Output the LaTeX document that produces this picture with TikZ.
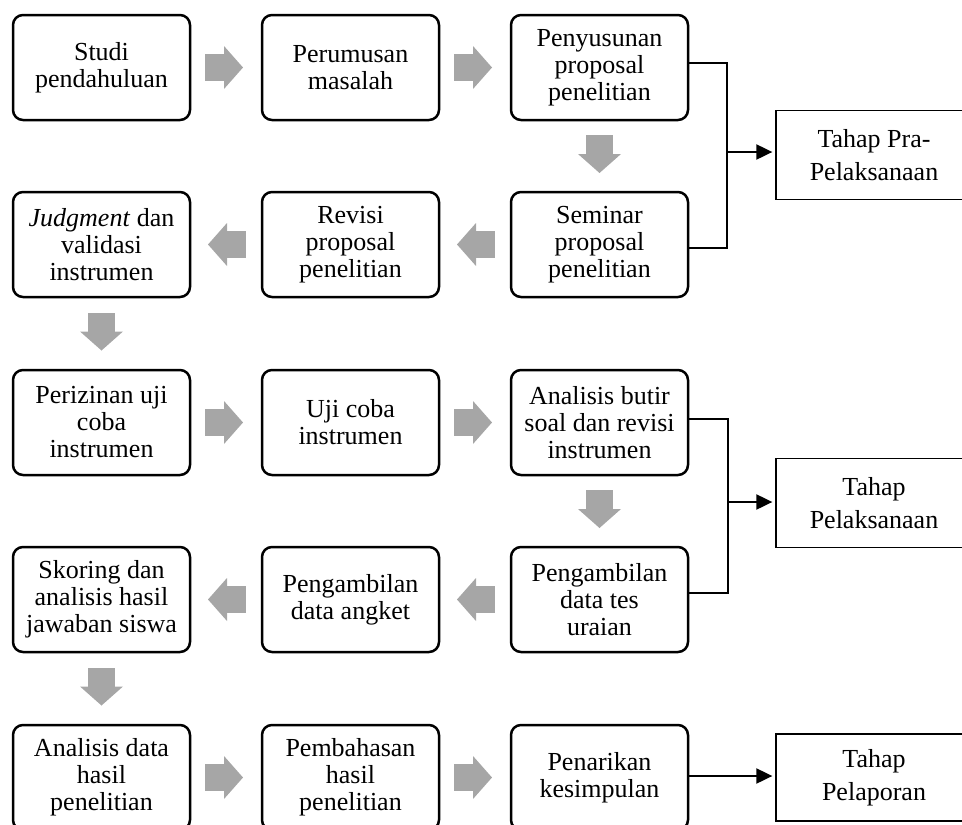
\documentclass[tikz,border=0pt]{standalone}
\usepackage{fontspec}
\setmainfont{Liberation Serif}
\usetikzlibrary{arrows.meta,calc}
\definecolor{garr}{RGB}{166,166,166}
\tikzset{
 stepbox/.style={draw, line width=2.5pt, rounded corners=10pt, minimum width=177pt, minimum height=105pt, align=center, inner sep=0pt, font=\fontsize{26}{27}\selectfont},
 tahapbox/.style={draw, line width=1.3pt, minimum width=196pt, align=center, inner sep=0pt, font=\fontsize{26}{33}\selectfont},
 bracket/.style={line width=2pt},
 blackarrow/.style={line width=2pt, -{Triangle[length=16pt,width=15pt]}, shorten >=3pt},
 garrow/.pic={\fill[garr] (-19,-13.5) rectangle (0.5,13.5); \fill[garr] (0,-21.5) -- (19,0) -- (0,21.5) -- cycle;}
}
\begin{document}
\begin{tikzpicture}[x=1pt,y=-1pt]
\useasboundingbox (0,0) rectangle (962,825);
\clip (0,0) rectangle (962,825);
% row 1
\node[stepbox] (a1) at (101.5,67.5) {Studi\\pendahuluan};
\node[stepbox] (a2) at (350.5,67.5) {Perumusan\\masalah};
\node[stepbox] (a3) at (599.5,67.5) {Penyusunan\\proposal\\penelitian};
% row 2
\node[stepbox] (b1) at (101.5,244.5) {\textit{Judgment} dan\\validasi\\instrumen};
\node[stepbox] (b2) at (350.5,244.5) {Revisi\\proposal\\penelitian};
\node[stepbox] (b3) at (599.5,244.5) {Seminar\\proposal\\penelitian};
% row 3
\node[stepbox] (c1) at (101.5,422.5) {Perizinan uji\\coba\\instrumen};
\node[stepbox] (c2) at (350.5,422.5) {Uji coba\\instrumen};
\node[stepbox] (c3) at (599.5,422.5) {Analisis butir\\soal dan revisi\\instrumen};
% row 4
\node[stepbox] (d1) at (101.5,599.5) {Skoring dan\\analisis hasil\\jawaban siswa};
\node[stepbox] (d2) at (350.5,599.5) {Pengambilan\\data angket};
\node[stepbox] (d3) at (599.5,599.5) {Pengambilan\\data tes\\uraian};
% row 5
\node[stepbox] (e1) at (101.5,777.5) {Analisis data\\hasil\\penelitian};
\node[stepbox] (e2) at (350.5,777.5) {Pembahasan\\hasil\\penelitian};
\node[stepbox] (e3) at (599.5,777.5) {Penarikan\\kesimpulan};
% stage boxes (right side runs off the page, as in the reference)
\node[tahapbox, minimum height=89pt] (t1) at (874,155) {Tahap Pra-\\Pelaksanaan};
\node[tahapbox, minimum height=89pt] (t2) at (874,503) {Tahap\\Pelaksanaan};
\node[tahapbox, minimum height=87pt] (t3) at (874,777.5) {Tahap\\Pelaporan};
% gray arrows
\pic at ($(a1.east)!0.5!(a2.west)+(-2,0)$) {garrow};
\pic at ($(a2.east)!0.5!(a3.west)+(-2,0)$) {garrow};
\pic[rotate=-90] at ($(a3.south)!0.5!(b3.north)+(0,-2)$) {garrow};
\pic[rotate=180] at ($(b3.west)!0.5!(b2.east)+(1,0)$) {garrow};
\pic[rotate=180] at ($(b2.west)!0.5!(b1.east)+(1,0)$) {garrow};
\pic[rotate=-90] at ($(b1.south)!0.5!(c1.north)+(0,-2)$) {garrow};
\pic at ($(c1.east)!0.5!(c2.west)+(-2,0)$) {garrow};
\pic at ($(c2.east)!0.5!(c3.west)+(-2,0)$) {garrow};
\pic[rotate=-90] at ($(c3.south)!0.5!(d3.north)+(0,-2)$) {garrow};
\pic[rotate=180] at ($(d3.west)!0.5!(d2.east)+(1,0)$) {garrow};
\pic[rotate=180] at ($(d2.west)!0.5!(d1.east)+(1,0)$) {garrow};
\pic[rotate=-90] at ($(d1.south)!0.5!(e1.north)+(0,-2)$) {garrow};
\pic at ($(e1.east)!0.5!(e2.west)+(-2,0)$) {garrow};
\pic at ($(e2.east)!0.5!(e3.west)+(-2,0)$) {garrow};
% brackets
\coordinate (k1) at (727,63);
\coordinate (k2) at (727,248);
\coordinate (j1) at (727,152);
\draw[bracket] (k1 -| a3.east) -- (k1) -- (k2) -- (k2 -| b3.east);
\draw[blackarrow] (j1) -- (j1 -| t1.west);
\coordinate (k3) at (728,419);
\coordinate (k4) at (728,593);
\coordinate (j2) at (728,502);
\draw[bracket] (k3 -| c3.east) -- (k3) -- (k4) -- (k4 -| d3.east);
\draw[blackarrow] (j2) -- (j2 -| t2.west);
\coordinate (j3) at (e3.east |- 0,776);
\draw[blackarrow] (j3) -- (j3 -| t3.west);
\end{tikzpicture}
\end{document}
